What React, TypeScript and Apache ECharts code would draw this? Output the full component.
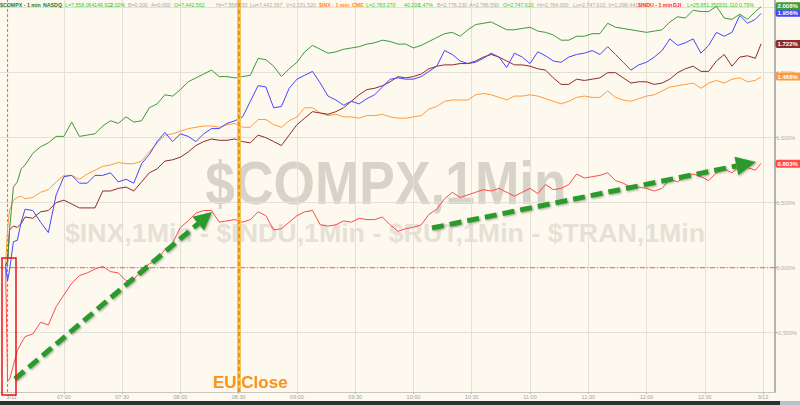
import React, { useEffect, useRef } from 'react';
import * as echarts from 'echarts';

// minutes after 07:00 on 3/11
const TIMES = [-30, -29, -28, -26, -24, -22, -20, -16, -12, -8, -4,
  0, 4, 8, 12, 16, 20, 24, 28, 32, 36,
  40, 44, 48, 52, 56, 60, 64, 68, 72, 76,
  80, 84, 88, 92, 96, 100, 104, 108, 112, 116,
  120, 124, 128, 132, 136, 140, 144, 148, 152, 156,
  160, 164, 168, 172, 176, 180, 184, 188, 192, 196,
  200, 204, 208, 212, 216, 220, 224, 228, 232, 236,
  240, 244, 248, 252, 256, 260, 264, 268, 272, 276,
  280, 284, 288, 292, 296, 300, 304, 308, 312, 316,
  320, 324, 328, 332, 336, 340, 344, 348, 352, 356, 359];

const COMPX = [0.02, 0.02, 0.29, 0.62, 0.66, 0.76, 0.79, 0.88, 0.93, 0.96, 1.01,
  1.01, 1.12, 1.01, 1.02, 1.03, 1.09, 1.13, 1.11, 1.16, 1.12,
  1.13, 1.23, 1.26, 1.33, 1.32, 1.37, 1.43, 1.46, 1.49, 1.52,
  1.47, 1.47, 1.46, 1.47, 1.48, 1.61, 1.60, 1.55, 1.47, 1.53,
  1.58, 1.66, 1.71, 1.68, 1.65, 1.66, 1.68, 1.69, 1.70, 1.72,
  1.73, 1.75, 1.74, 1.72, 1.72, 1.69, 1.71, 1.74, 1.77, 1.80,
  1.81, 1.78, 1.83, 1.87, 1.88, 1.89, 1.86, 1.83, 1.83, 1.84,
  1.85, 1.82, 1.81, 1.79, 1.75, 1.75, 1.78, 1.78, 1.80, 1.80,
  1.88, 1.85, 1.84, 1.83, 1.82, 1.81, 1.82, 1.83, 1.89, 1.93,
  1.92, 1.98, 1.97, 1.97, 2.01, 1.92, 1.91, 1.95, 1.91, 1.97, 2.008];

const RUT = [0.02, -0.10, -0.02, 0.20, 0.21, 0.35, 0.45, 0.44, 0.35, 0.27, 0.56,
  0.70, 0.71, 0.65, 0.65, 0.71, 0.71, 0.73, 0.66, 0.68, 0.65,
  0.80, 0.87, 0.97, 1.04, 0.97, 1.03, 1.01, 0.97, 1.03, 1.07,
  1.07, 1.11, 1.13, 1.16, 1.28, 1.40, 1.39, 1.23, 1.24, 1.38,
  1.45, 1.48, 1.51, 1.42, 1.32, 1.29, 1.25, 1.28, 1.26, 1.30,
  1.33, 1.39, 1.45, 1.46, 1.45, 1.45, 1.47, 1.51, 1.55, 1.67,
  1.64, 1.59, 1.57, 1.58, 1.61, 1.65, 1.62, 1.54, 1.65, 1.62,
  1.57, 1.66, 1.63, 1.59, 1.58, 1.62, 1.64, 1.65, 1.67, 1.64,
  1.70, 1.64, 1.58, 1.52, 1.56, 1.58, 1.62, 1.67, 1.76, 1.71,
  1.73, 1.76, 1.65, 1.71, 1.81, 1.78, 1.81, 1.94, 1.88, 1.91, 1.956];

const TRAN = [0.02, 0.05, 0.29, 0.32, 0.31, 0.34, 0.39, 0.38, 0.43, 0.44, 0.50,
  0.52, 0.49, 0.46, 0.46, 0.46, 0.59, 0.59, 0.61, 0.62, 0.59,
  0.66, 0.73, 0.76, 0.82, 0.83, 0.85, 0.89, 0.94, 0.97, 0.99,
  0.98, 0.98, 0.99, 0.97, 0.96, 1.02, 1.00, 0.97, 0.94, 1.02,
  1.10, 1.15, 1.20, 1.19, 1.18, 1.20, 1.23, 1.28, 1.33, 1.37,
  1.38, 1.40, 1.43, 1.47, 1.46, 1.47, 1.49, 1.53, 1.55, 1.56,
  1.56, 1.57, 1.57, 1.59, 1.62, 1.64, 1.62, 1.59, 1.56, 1.56,
  1.55, 1.53, 1.52, 1.46, 1.41, 1.41, 1.45, 1.44, 1.45, 1.46,
  1.50, 1.50, 1.46, 1.42, 1.43, 1.43, 1.41, 1.42, 1.45, 1.50,
  1.53, 1.55, 1.51, 1.51, 1.59, 1.64, 1.55, 1.62, 1.63, 1.61, 1.722];

const INX = [0.02, 0.30, 0.44, 0.52, 0.54, 0.55, 0.53, 0.54, 0.58, 0.60, 0.66,
  0.71, 0.71, 0.68, 0.72, 0.75, 0.78, 0.79, 0.81, 0.80, 0.80,
  0.82, 0.89, 0.96, 1.02, 1.03, 1.05, 1.07, 1.08, 1.09, 1.09,
  1.08, 1.10, 1.11, 1.08, 1.08, 1.14, 1.14, 1.10, 1.08, 1.13,
  1.16, 1.23, 1.23, 1.19, 1.17, 1.18, 1.16, 1.16, 1.15, 1.17,
  1.17, 1.18, 1.16, 1.15, 1.15, 1.16, 1.17, 1.22, 1.24, 1.28,
  1.29, 1.29, 1.29, 1.33, 1.34, 1.33, 1.31, 1.29, 1.32, 1.32,
  1.33, 1.32, 1.30, 1.28, 1.26, 1.28, 1.31, 1.32, 1.31, 1.31,
  1.36, 1.31, 1.29, 1.28, 1.30, 1.32, 1.33, 1.36, 1.39, 1.40,
  1.41, 1.42, 1.38, 1.42, 1.44, 1.42, 1.45, 1.46, 1.43, 1.44, 1.468];

const INDU = [0.00, -0.87, -0.86, -0.75, -0.64, -0.58, -0.53, -0.51, -0.42, -0.44, -0.30,
  -0.21, -0.12, -0.06, -0.04, -0.01, 0.01, -0.03, -0.04, -0.10, -0.09,
  -0.02, 0.03, 0.06, 0.14, 0.19, 0.31, 0.36, 0.42, 0.44, 0.44,
  0.35, 0.36, 0.37, 0.35, 0.37, 0.43, 0.40, 0.29, 0.30, 0.35,
  0.40, 0.43, 0.44, 0.33, 0.32, 0.33, 0.36, 0.35, 0.38, 0.37,
  0.37, 0.39, 0.33, 0.28, 0.30, 0.31, 0.33, 0.41, 0.45, 0.53,
  0.58, 0.54, 0.56, 0.58, 0.60, 0.59, 0.61, 0.58, 0.55, 0.58,
  0.61, 0.57, 0.64, 0.60, 0.61, 0.64, 0.72, 0.69, 0.70, 0.71,
  0.73, 0.67, 0.65, 0.62, 0.62, 0.61, 0.59, 0.61, 0.68, 0.66,
  0.70, 0.72, 0.70, 0.67, 0.73, 0.76, 0.73, 0.78, 0.77, 0.75, 0.803];

const X_MIN = -32.9;
const X_MAX = 365.9;
const Y_MIN = -0.956;
const Y_MAX = 2.059;
const X_LABEL_VALUES = [-27, 0, 30, 60, 90, 120, 150, 180, 210, 240, 270, 300, 330, 360];
const X_TICK_VALUES = [0, 30, 60, 90, 120, 150, 180, 210, 240, 270, 300, 330, 360];
const Y_TICK_VALUES = [-0.5, 0, 0.5, 1, 1.5, 2];
const Y_LABEL_VALUES = [-0.5, 0, 0.5, 1, 1.5];
const EU_CLOSE_T = 90;
const SESSION_START_T = -29;
const PREV_CLOSE_PCT = 0;

const FONT = "'Liberation Sans', Arial, sans-serif";

const HEADER: [string, string, number, boolean][] = [
  ['$COMPX - 1 min', '#1f7a1f', 0, true],
  ['NASDQ', '#1f7a1f', 43, true],
  ['L=7,558.064', '#2fcc2f', 65, false],
  ['149.922', '#2fcc2f', 94, false],
  ['2.02%', '#2fcc2f', 110, false],
  ['B=0.000', '#a9a9a9', 128, false],
  ['A=0.000', '#a9a9a9', 151, false],
  ['O=7,442.562', '#2fcc2f', 174, false],
  ['Hi=7,558.230', '#a9a9a9', 216, false],
  ['Lo=7,442.397', '#a9a9a9', 250, false],
  ['V=2,151,520', '#a9a9a9', 286, false],
  ['$INX - 1 min', '#ff8a1c', 319, true],
  ['CME', '#ff8a1c', 352, true],
  ['L=2,783.270', '#2fcc2f', 366, false],
  ['40.200', '#2fcc2f', 404, false],
  ['1.47%', '#2fcc2f', 418, false],
  ['B=2,778.230', '#a9a9a9', 437, false],
  ['A=2,786.590', '#a9a9a9', 469, false],
  ['O=2,747.610', '#2fcc2f', 503, false],
  ['Hi=2,784.000', '#a9a9a9', 537, false],
  ['Lo=2,747.610', '#a9a9a9', 573, false],
  ['V=1,098,441', '#a9a9a9', 608, false],
  ['$INDU - 1 min', '#ff2a2a', 638, true],
  ['DJI', '#ff2a2a', 673, true],
  ['L=25,651.350', '#2fcc2f', 687, false],
  ['201.110', '#2fcc2f', 719, false],
  ['0.79%', '#2fcc2f', 739, false],
];

function fmtTime(v: number) {
  if (v === -27) return '3/11';
  if (v === 360) return '3/12';
  const m = 7 * 60 + v;
  const h = Math.floor(m / 60);
  const mm = m % 60;
  return String(h).padStart(2, '0') + ':' + String(mm).padStart(2, '0');
}

function lastLabel(values: number[], color: string) {
  const last = values[values.length - 1];
  return {
    yAxis: last,
    lineStyle: { width: 0, color: 'rgba(0,0,0,0)' },
    label: {
      show: true,
      position: 'end',
      formatter: last.toFixed(3) + '%',
      color: '#ffffff',
      backgroundColor: color,
      fontSize: 6,
      fontWeight: 'bold',
      fontFamily: FONT,
      padding: [1, 8, 1, 2],
      borderRadius: 2,
      distance: 1,
      opacity: 1,
    },
  };
}

function arrow(x1: number, y1: number, x2: number, y2: number, head: number, half: number) {
  const dx = x2 - x1, dy = y2 - y1;
  const len = Math.sqrt(dx * dx + dy * dy);
  const ux = dx / len, uy = dy / len;
  const bx = x2 - ux * head, by = y2 - uy * head;
  const nx = -uy, ny = ux;
  const shadow = { shadowBlur: 2, shadowColor: 'rgba(0,0,0,0.35)', shadowOffsetX: 1, shadowOffsetY: 1 };
  return [
    {
      type: 'line', z: 20,
      shape: { x1, y1, x2: bx, y2: by },
      style: { stroke: '#2a9a2a', lineWidth: 5, lineDash: [12, 6], ...shadow },
    },
    {
      type: 'polygon', z: 20,
      shape: { points: [[x2, y2], [bx + nx * half, by + ny * half], [bx - nx * half, by - ny * half]] },
      style: { fill: '#2a9a2a', ...shadow },
    },
  ];
}

export default function App() {
  const ref = useRef<HTMLDivElement>(null);
  useEffect(() => {
    if (!ref.current) return;
    const chart = echarts.init(ref.current, undefined, { renderer: 'svg' });
    const mk = (vals: number[]) => TIMES.map((t, i) => [t, vals[i]]);
    const baseLine = (name: string, vals: number[], color: string, extra: any[] = []) => ({
      name,
      type: 'line',
      data: mk(vals),
      showSymbol: false,
      symbol: 'none',
      lineStyle: { color, width: 1 },
      itemStyle: { color },
      z: 3,
      markLine: {
        silent: true,
        symbol: ['none', 'none'],
        label: { show: false },
        data: [...extra, lastLabel(vals, color)],
      },
    });
    const refLine = (name: string, data: number[][], color: string, type: any) => ({
      name,
      type: 'line',
      data,
      showSymbol: false,
      symbol: 'none',
      silent: true,
      lineStyle: { color, width: 1, type },
      itemStyle: { color },
      z: 2,
    });

    const graphics: any[] = [
      {
        type: 'text', z: 0, x: 386, y: 183, scaleX: 0.86,
        style: { text: '$COMPX,1Min', fill: '#d7d3c8', font: `bold 62px ${FONT}`, align: 'center', verticalAlign: 'middle' },
      },
      {
        type: 'text', z: 0, x: 385, y: 233, scaleX: 1.07,
        style: { text: '$INX,1Min - $INDU,1Min - $RUT,1Min - $TRAN,1Min', fill: '#e5e1d6', font: `bold 25px ${FONT}`, align: 'center', verticalAlign: 'middle' },
      },
      ...HEADER.map(([text, color, x, bold]) => ({
        type: 'text', z: 30, x, y: 5, scaleX: 0.85,
        style: { text, fill: color, font: `${bold ? 'bold ' : ''}6.2px ${FONT}`, align: 'left', verticalAlign: 'middle' },
      })),
      {
        type: 'rect', z: 25,
        shape: { x: 2, y: 258, width: 14, height: 137 },
        style: { fill: 'none', stroke: '#e8141b', lineWidth: 1.5 },
      },
      ...arrow(15, 379, 212, 212, 18, 9),
      ...arrow(432, 228, 756, 162, 20, 9.5),
      {
        type: 'text', z: 25, x: 213, y: 382,
        style: { text: 'EU Close', fill: '#f7941d', font: `bold 17px ${FONT}`, align: 'left', verticalAlign: 'middle' },
      },
      { type: 'rect', z: 30, shape: { x: 0, y: 401, width: 800, height: 4 }, style: { fill: '#2c3139' } },
      { type: 'rect', z: 31, shape: { x: 780, y: 401, width: 20, height: 4 }, style: { fill: '#b9c0ca' } },
    ];

    chart.setOption({
      animation: false,
      backgroundColor: '#fdf9ee',
      grid: { left: 0, right: 25, top: 0, bottom: 13, containLabel: false },
      xAxis: {
        type: 'value',
        min: X_MIN,
        max: X_MAX,
        axisLine: { show: true, onZero: false, lineStyle: { color: '#c9c6be', width: 1 } },
        axisTick: { show: true, length: 2, customValues: X_TICK_VALUES, lineStyle: { color: '#bdbab2' } },
        axisLabel: {
          customValues: X_LABEL_VALUES,
          formatter: (v: number) => fmtTime(v),
          fontSize: 5.5,
          color: '#a2a2a2',
          fontFamily: FONT,
          margin: 2,
        },
        splitLine: { show: true, lineStyle: { color: '#e3e0d7', width: 1 } },
      },
      yAxis: {
        type: 'value',
        position: 'right',
        min: Y_MIN,
        max: Y_MAX,
        axisLine: { show: true, onZero: false, lineStyle: { color: '#b3b3b3', width: 2 } },
        axisTick: { show: true, length: 3, inside: false, customValues: Y_TICK_VALUES, lineStyle: { color: '#aaaaaa' } },
        axisLabel: {
          customValues: Y_LABEL_VALUES,
          formatter: (v: number) => v.toFixed(3) + '%',
          fontSize: 5.5,
          color: '#aaaaaa',
          fontFamily: FONT,
          margin: 2,
        },
        splitLine: { show: true, lineStyle: { color: '#e3e0d7', width: 1 } },
      },
      series: [
        refLine('prevClose', [[X_MIN, PREV_CLOSE_PCT], [X_MAX, PREV_CLOSE_PCT]], '#ff5a5a', [5, 2, 1, 2]),
        refLine('sessionStart', [[SESSION_START_T, Y_MIN], [SESSION_START_T, Y_MAX]], '#ff5a5a', [3, 2]),
        baseLine('$INDU', INDU, '#ff4a4a'),
        baseLine('$INX', INX, '#ff9a3c', [
          { xAxis: EU_CLOSE_T, lineStyle: { color: '#f8c25a', width: 4, type: 'solid' } },
          { xAxis: EU_CLOSE_T, lineStyle: { color: '#ee9410', width: 2, type: [4, 3] } },
        ]),
        baseLine('$TRAN', TRAN, '#8e2b2b'),
        baseLine('$RUT', RUT, '#4646ff'),
        baseLine('$COMPX', COMPX, '#3b9a3b'),
      ],
      graphic: graphics,
    });
    return () => chart.dispose();
  }, []);
  return <div ref={ref} style={{ position: 'fixed', left: 0, top: 0, width: 800, height: 405 }} />;
}
